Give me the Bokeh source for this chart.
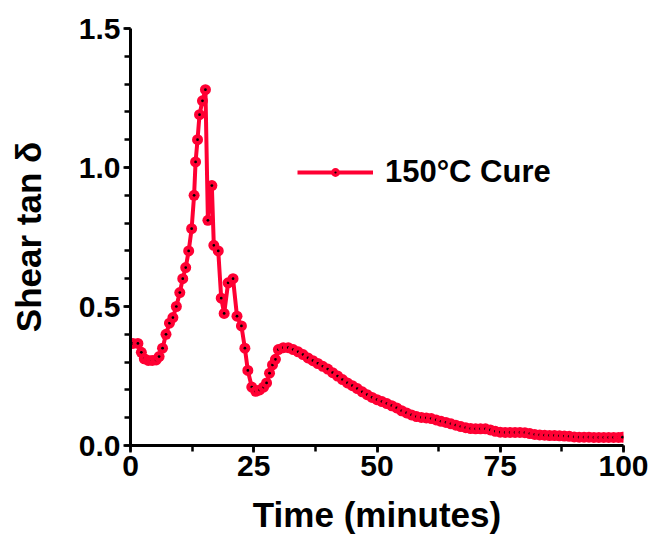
from bokeh.plotting import figure
from bokeh.models import Range1d, SingleIntervalTicker, PrintfTickFormatter, Legend, LegendItem
from bokeh.embed import file_html
from bokeh.resources import INLINE

time_min = [0.5, 1.5, 2.2, 2.8, 3.6, 4.4, 5.2, 5.8, 6.5, 7.2, 7.9, 8.6, 9.3, 10.0, 10.6, 11.2, 11.8,
            12.4, 12.9, 13.2, 13.6, 14.0, 14.6, 15.2, 15.7, 16.5, 16.9, 17.8, 18.4, 19.0, 19.8,
            20.8, 21.6, 22.5, 23.2, 23.8, 24.6, 25.4, 26.2, 27.0, 27.6, 28.2, 28.8, 29.4, 30.0,
            31.0, 32.0, 33.0, 34.0, 35.0, 36.0, 37.0, 38.0, 39.0, 40.0, 41.0, 42.0, 43.0, 44.0,
            45.0, 46.0, 47.0, 48.0, 49.0, 50.0, 51.0, 52.0, 53.0, 54.0, 55.0, 56.0, 57.0, 58.0,
            59.0, 60.0, 61.0, 62.0, 63.0, 64.0, 65.0, 66.0, 67.0, 68.0, 69.0, 70.0, 71.0, 72.0,
            73.0, 74.0, 75.0, 76.0, 77.0, 78.0, 79.0, 80.0, 81.0, 82.0, 83.0, 84.0, 85.0, 86.0,
            87.0, 88.0, 89.0, 90.0, 91.0, 92.0, 93.0, 94.0, 95.0, 96.0, 97.0, 98.0, 99.0, 99.8]
tan_delta = [0.367, 0.367, 0.335, 0.312, 0.306, 0.306, 0.308, 0.32, 0.35, 0.40, 0.44, 0.46, 0.50,
             0.55, 0.60, 0.64, 0.70, 0.78, 0.90, 1.02, 1.10, 1.19, 1.24, 1.28, 0.81, 0.935, 0.72,
             0.70, 0.53, 0.475, 0.585, 0.60, 0.465, 0.43, 0.35, 0.27, 0.21, 0.195, 0.20, 0.21,
             0.225, 0.26, 0.29, 0.31, 0.345, 0.352, 0.352, 0.345, 0.337, 0.327, 0.315, 0.305,
             0.295, 0.285, 0.275, 0.262, 0.25, 0.237, 0.225, 0.215, 0.205, 0.193, 0.183, 0.173,
             0.165, 0.158, 0.151, 0.143, 0.135, 0.125, 0.117, 0.11, 0.104, 0.101, 0.099, 0.097,
             0.092, 0.087, 0.083, 0.078, 0.073, 0.068, 0.064, 0.061, 0.06, 0.06, 0.06, 0.056,
             0.051, 0.048, 0.047, 0.047, 0.047, 0.047, 0.046, 0.043, 0.04, 0.038, 0.037, 0.036,
             0.036, 0.035, 0.034, 0.033, 0.031, 0.03, 0.03, 0.03, 0.029, 0.029, 0.029, 0.029,
             0.029, 0.029, 0.03]
series_name = "150°C Cure"
x_label = "Time (minutes)"
y_label = "Shear tan δ"

RED = "#FF0033"
FONT = "Liberation Sans"

p = figure(width=660, height=537, output_backend="svg", toolbar_location=None,
           x_range=Range1d(0, 100), y_range=Range1d(0, 1.5),
           min_border_left=130, min_border_right=37, min_border_top=28, min_border_bottom=92)
p.outline_line_color = None
p.xgrid.visible = False
p.ygrid.visible = False

ln = p.line(time_min, tan_delta, line_color=RED, line_width=4)
sc = p.scatter(time_min, tan_delta, marker="circle_dot", size=11, fill_color=RED,
               line_color="black", line_width=0.01)

p.xaxis.ticker = SingleIntervalTicker(interval=25, num_minor_ticks=2)
p.yaxis.ticker = SingleIntervalTicker(interval=0.5, num_minor_ticks=5)
p.yaxis.formatter = PrintfTickFormatter(format="%.1f")
p.xaxis.axis_label = x_label
p.yaxis.axis_label = y_label

for ax in (p.xaxis[0], p.yaxis[0]):
    ax.axis_line_width = 3
    ax.axis_line_color = "black"
    ax.major_tick_line_width = 2.5
    ax.minor_tick_line_width = 2.5
    ax.major_tick_in = 0
    ax.minor_tick_in = 0
    ax.major_tick_out = 7
    ax.minor_tick_out = 6
    ax.major_label_text_font = FONT
    ax.major_label_text_font_style = "bold"
    ax.major_label_text_font_size = "30px"
    ax.major_label_text_color = "black"
    ax.axis_label_text_font = FONT
    ax.axis_label_text_font_style = "bold"
    ax.axis_label_text_font_size = "35px"
    ax.axis_label_text_color = "black"

p.xaxis.major_label_standoff = 3
p.xaxis.axis_label_standoff = 16
p.yaxis.major_label_standoff = 3
p.yaxis.axis_label_standoff = 28

legend = Legend(items=[LegendItem(label=series_name, renderers=[ln, sc])],
                location=(167, 255), padding=0, margin=0,
                glyph_width=76, glyph_height=22, label_height=36, label_standoff=12,
                label_text_font=FONT, label_text_font_style="bold", label_text_font_size="31px",
                label_text_color="black", border_line_alpha=0, background_fill_alpha=0)
p.add_layout(legend)

open("out.html", "w").write(file_html(p, INLINE))
